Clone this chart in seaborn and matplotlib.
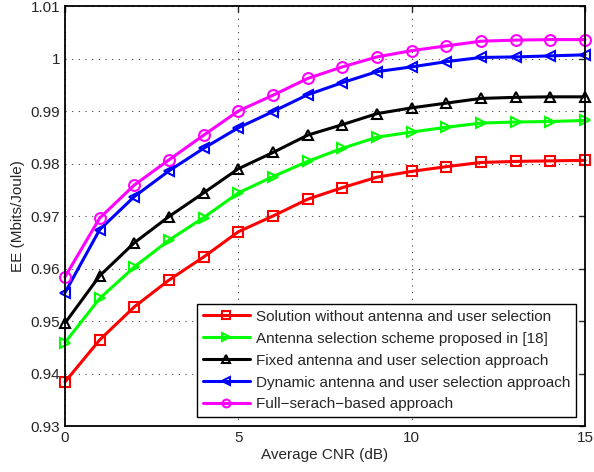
import numpy as np
import pandas as pd
import matplotlib
matplotlib.use("Agg")
import matplotlib.pyplot as plt
import seaborn as sns

x_vals = list(range(16))
red_vals = [0.9384, 0.9464, 0.9527, 0.9578, 0.9622, 0.9670, 0.9700, 0.9732,
            0.9754, 0.9774, 0.9785, 0.9794, 0.9802, 0.9804, 0.9805, 0.9806]
green_vals = [0.9459, 0.9543, 0.9603, 0.9654, 0.9697, 0.9744, 0.9775, 0.9804,
              0.9829, 0.9850, 0.9860, 0.9869, 0.9877, 0.9879, 0.9880, 0.9882]
black_vals = [0.9496, 0.9586, 0.9649, 0.9699, 0.9744, 0.9790, 0.9821, 0.9854,
              0.9874, 0.9895, 0.9906, 0.9915, 0.9924, 0.9926, 0.9927, 0.9927]
blue_vals = [0.9554, 0.9674, 0.9737, 0.9786, 0.9829, 0.9868, 0.9899, 0.9931,
             0.9954, 0.9975, 0.9984, 0.9994, 1.0002, 1.0003, 1.0005, 1.0007]
magenta_vals = [0.9584, 0.9696, 0.9759, 0.9807, 0.9854, 0.9900, 0.9930, 0.9962,
                0.9984, 1.0003, 1.0015, 1.0024, 1.0033, 1.0035, 1.0036, 1.0036]

labels = ["Solution without antenna and user selection",
          "Antenna selection scheme proposed in [18]",
          "Fixed antenna and user selection approach",
          "Dynamic antenna and user selection approach",
          "Full\u2212serach\u2212based approach"]
series = [red_vals, green_vals, black_vals, blue_vals, magenta_vals]
colors = ["#ff0000", "#00ff00", "#000000", "#0000ff", "#ff00ff"]
markers = ["s", ">", "^", "<", "o"]

y_ticks = [0.93, 0.94, 0.95, 0.96, 0.97, 0.98, 0.99, 1.00, 1.01]
y_tick_labels = ["0.93", "0.94", "0.95", "0.96", "0.97", "0.98", "0.99", "1", "1.01"]
x_ticks = [0, 5, 10, 15]

sns.set_style("white")
plt.rcParams['font.family'] = ['Liberation Sans', 'DejaVu Sans']

fig = plt.figure(figsize=(5.94, 4.72), dpi=100)
ax = fig.add_axes([65/594, 1 - 426/472, 520/594, 420/472])

for vals, lab, col, mk in zip(series, labels, colors, markers):
    df = pd.DataFrame({"x": x_vals, "y": vals})
    sns.lineplot(data=df, x="x", y="y", ax=ax, color=col, marker=mk,
                 markersize=7.8, markerfacecolor="none", markeredgecolor=col,
                 markeredgewidth=1.5, linewidth=2.2, label=lab, clip_on=False,
                 zorder=3)

ax.set_xlim(0, 15)
ax.set_ylim(0.93, 1.01)
ax.set_xticks(x_ticks)
ax.set_xticklabels([str(t) for t in x_ticks])
ax.set_yticks(y_ticks)
ax.set_yticklabels(y_tick_labels)
ax.tick_params(direction="in", top=True, right=True, labelsize=11, length=4, width=1)
ax.grid(True, linestyle=(0, (1, 5)), color="#444444", linewidth=0.8)
for s in ax.spines.values():
    s.set_linewidth(1.3)
    s.set_color("black")
    s.set_zorder(4)
ax.set_xlabel("Average CNR (dB)", fontsize=11, labelpad=2)
ax.set_ylabel("EE (Mbits/Joule)", fontsize=11, labelpad=4)

leg = ax.legend(loc="lower right", fontsize=11, handlelength=3.1, frameon=True,
                fancybox=False, edgecolor="black", borderaxespad=0.6,
                labelspacing=0.52, handletextpad=0.4, borderpad=0.35,
                markerscale=0.72)
leg.get_frame().set_linewidth(1.0)
leg.get_frame().set_alpha(1)
leg.set_zorder(10)

fig.savefig("out.png", dpi=100)
